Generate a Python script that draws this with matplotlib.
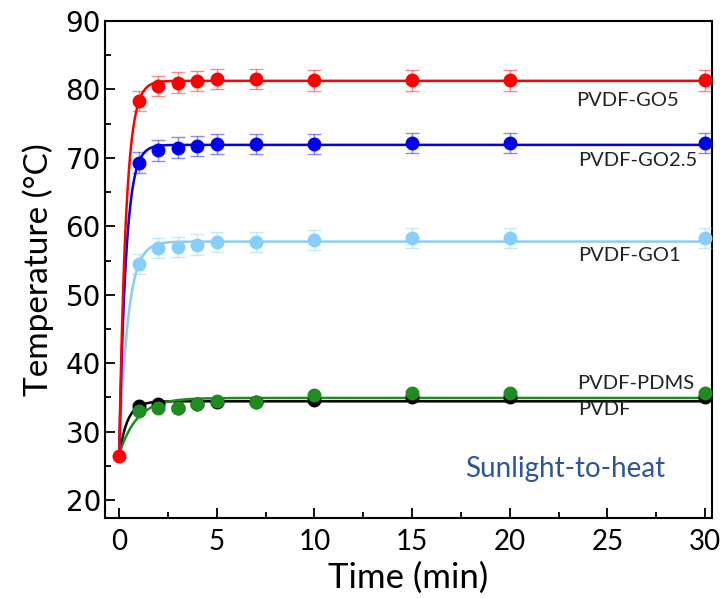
import numpy as np
import matplotlib
matplotlib.use("Agg")
import matplotlib.pyplot as plt
from matplotlib.ticker import MultipleLocator

# Data
time = [0, 1, 2, 3, 4, 5, 7, 10, 15, 20, 30]
go5 = [26.5, 78.3, 80.5, 81.0, 81.2, 81.5, 81.5, 81.3, 81.3, 81.3, 81.3]
go25 = [26.5, 69.3, 71.1, 71.5, 71.7, 72.0, 72.0, 72.0, 72.2, 72.2, 72.2]
go1 = [26.5, 54.5, 56.8, 57.0, 57.3, 57.7, 57.7, 58.0, 58.3, 58.3, 58.3]
pdms = [26.5, 33.0, 33.5, 33.5, 34.0, 34.5, 34.3, 35.3, 35.7, 35.7, 35.7]
pvdf = [26.5, 33.8, 34.0, 33.5, 34.0, 34.3, 34.3, 34.6, 35.0, 35.0, 35.0]
err_big = [0, 1.5, 1.5, 1.5, 1.5, 1.5, 1.5, 1.5, 1.5, 1.5, 1.5]
err_small = [0, 0.3, 0.3, 0.3, 0.3, 0.3, 0.3, 0.3, 0.3, 0.3, 0.3]

series = [
    ("PVDF", pvdf, err_small, "black", (23.5, 33.3)),
    ("PVDF-PDMS", pdms, err_small, "#1e8c1e", (23.45, 37.1)),
    ("PVDF-GO1", go1, err_big, "#87cefa", (23.5, 55.8)),
    ("PVDF-GO2.5", go25, err_big, "#0000ee", (23.5, 69.6)),
    ("PVDF-GO5", go5, err_big, "#ff0000", (23.4, 78.4)),
]


def fit_curve(t, y, tt):
    # first-order heating fit: y = y0 + A*(1 - exp(-t/tau))
    t = np.asarray(t, float)
    y = np.asarray(y, float)
    best = None
    for tau in np.linspace(0.05, 5, 400):
        X = np.column_stack([np.ones_like(t), 1 - np.exp(-t / tau)])
        coef, *_ = np.linalg.lstsq(X, y, rcond=None)
        r = np.sum((X @ coef - y) ** 2)
        if best is None or r < best[0]:
            best = (r, tau, coef)
    _, tau, coef = best
    return coef[0] + coef[1] * (1 - np.exp(-tt / tau))


fig = plt.figure(figsize=(7.2, 5.98), dpi=100)
ax = fig.add_axes([0.146, 0.134, 0.843, 0.831])

tt = np.linspace(0, 30, 600)
for name, vals, err, col, (lx, ly) in series:
    ax.plot(tt, fit_curve(time, vals, tt), color=col, lw=1.8, zorder=2)
    ax.errorbar(time[1:], vals[1:], yerr=err[1:], fmt="o", color=col, ms=9,
                ecolor=matplotlib.colors.to_rgba(col, 0.45), elinewidth=1.0,
                capsize=5, capthick=1.0, zorder=3)
    ax.text(lx, ly, name, fontsize=14.5, family="Lato", color="#222222",
            va="center", ha="left")

ax.plot([0], [26.5], "o", color="#ff0000", ms=9, zorder=4)

ax.text(17.7, 24.6, "Sunlight-to-heat", fontsize=20, family="Lato",
        color="#2e5597", va="center", ha="left")

ax.set_xlim(-0.72, 30.36)
ax.set_ylim(17.4, 90)
ax.xaxis.set_major_locator(MultipleLocator(5))
ax.xaxis.set_minor_locator(MultipleLocator(2.5))
ax.yaxis.set_major_locator(MultipleLocator(10))
ax.yaxis.set_minor_locator(MultipleLocator(5))
ax.tick_params(which="both", direction="in", top=False, right=False, width=1.3)
ax.tick_params(which="major", length=7)
ax.tick_params(which="minor", length=4)
ax.tick_params(axis="y", labelsize=20, pad=3)
ax.tick_params(axis="x", labelsize=20, pad=8)
for lab in ax.get_xticklabels():
    lab.set_family("Lato")
for s in ax.spines.values():
    s.set_linewidth(1.5)

ax.set_xlabel("Time (min)", fontsize=25, family="Lato", labelpad=5)
ax.set_ylabel("Temperature (°C)", fontsize=24, family="Lato", labelpad=8)

fig.savefig("out.png", dpi=100)
